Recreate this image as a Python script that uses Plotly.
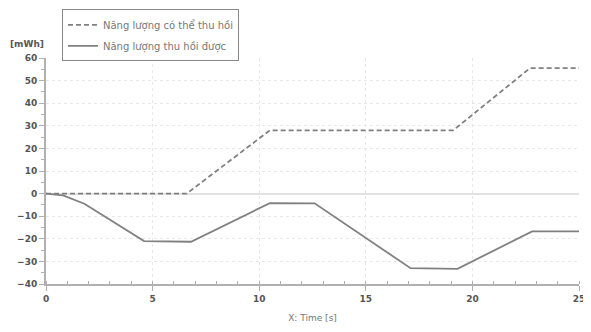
import plotly.graph_objects as go

# Data
t_potential = [0, 6.6, 10.5, 19.1, 22.7, 25]
e_potential = [0, 0, 28, 28, 55.5, 55.5]

t_recovered = [0, 0.8, 1.8, 4.6, 6.8, 10.5, 12.6, 17.1, 19.3, 22.8, 25]
e_recovered = [0, -0.8, -4.5, -21, -21.3, -4.2, -4.3, -33, -33.3, -16.7, -16.7]

name_potential = "Năng lượng có thể thu hồi"
name_recovered = "Năng lượng thu hồi được"

fig = go.Figure()
fig.add_trace(go.Scatter(x=t_potential, y=e_potential, mode="lines", name=name_potential,
                         legendgroup="a",
                         line=dict(color="#808080", width=1.8, dash="5px,3px")))
fig.add_trace(go.Scatter(x=t_recovered, y=e_recovered, mode="lines", name=name_recovered,
                         legendgroup="b",
                         line=dict(color="#808080", width=1.8)))

tickfont = dict(family="DejaVu Sans", size=9, color="#555555", weight="bold")
fig.update_layout(
    width=583, height=324,
    margin=dict(l=38, r=12, t=50, b=48, autoexpand=False),
    paper_bgcolor="white", plot_bgcolor="white",
    font=dict(family="DejaVu Sans", size=9, color="#666666"),
    legend=dict(x=0.03, y=1.215, xanchor="left", yanchor="top",
                bordercolor="#888888", borderwidth=1, bgcolor="white",
                font=dict(size=10, color="#777777"), tracegroupgap=2,
                itemwidth=30),
    showlegend=True,
)
fig.update_xaxes(range=[0, 25], tick0=0, dtick=5, showline=True, linecolor="#b0b0b0", linewidth=2,
                 ticks="outside", ticklen=5, tickcolor="#b0b0b0", tickfont=tickfont,
                 showgrid=True, gridcolor="#e8e8e8", griddash="dot", gridwidth=1,
                 minor=dict(dtick=1, ticks="inside", ticklen=3, tickcolor="#b0b0b0", showgrid=False),
                 zeroline=False, mirror=False, automargin=False,
                 title=dict(text="X: Time [s]", font=dict(size=9, color="#777777"), standoff=12))
fig.update_yaxes(range=[-40, 60], tick0=-40, dtick=10, showline=True, linecolor="#b0b0b0", linewidth=2,
                 ticks="outside", ticklen=5, tickcolor="#b0b0b0", tickfont=tickfont,
                 showgrid=True, gridcolor="#e8e8e8", griddash="dot", gridwidth=1,
                 minor=dict(dtick=5, ticks="outside", ticklen=3, tickcolor="#b0b0b0", showgrid=False),
                 zeroline=True, zerolinecolor="#e2e2e2", zerolinewidth=2, automargin=False)
fig.add_annotation(text="[mWh]", xref="paper", yref="paper", x=-0.072, y=1.062,
                   xanchor="left", yanchor="middle", showarrow=False,
                   font=dict(size=9, color="#555555", weight="bold"))
fig.write_html("out.html")
